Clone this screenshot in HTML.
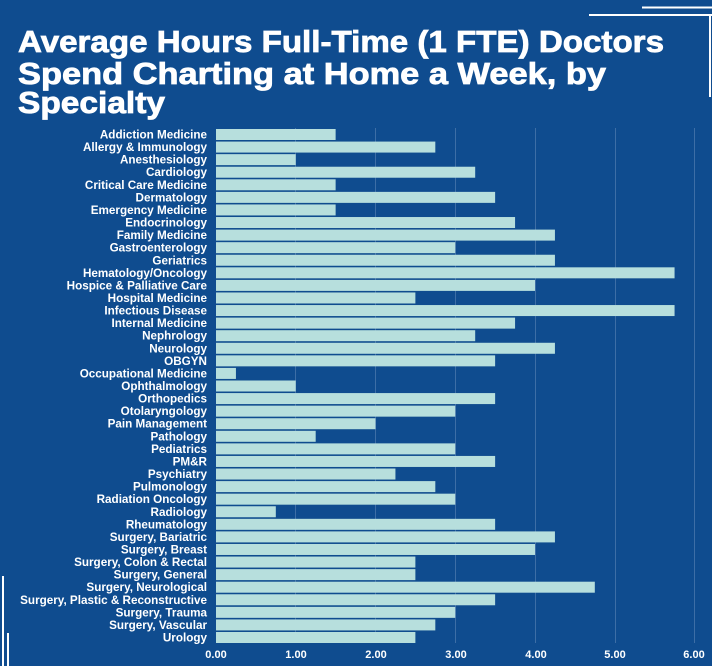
<!DOCTYPE html>
<html><head><meta charset="utf-8"><style>
html,body{margin:0;padding:0;background:#0f4c8f;}
svg{display:block;font-family:"Liberation Sans",sans-serif;font-weight:bold;}
</style></head><body>
<svg width="712" height="666" viewBox="0 0 712 666" xmlns="http://www.w3.org/2000/svg">
<rect width="712" height="666" fill="#0f4c8f"/>
<line x1="642" y1="7.5" x2="712" y2="7.5" stroke="#fff" stroke-width="2"/>
<line x1="589" y1="15" x2="712" y2="15" stroke="#fff" stroke-width="2"/>
<line x1="710" y1="15" x2="710" y2="97" stroke="#fff" stroke-width="2"/>
<line x1="3" y1="576" x2="3" y2="666" stroke="#fff" stroke-width="2"/>
<line x1="8" y1="633" x2="8" y2="666" stroke="#fff" stroke-width="2"/>
<g fill="#fff" font-size="31" stroke="#fff" stroke-width="0.8">
<text x="18" y="52" textLength="646" lengthAdjust="spacingAndGlyphs">Average Hours Full-Time (1 FTE) Doctors</text>
<text x="18" y="84" textLength="588" lengthAdjust="spacingAndGlyphs">Spend Charting at Home a Week, by</text>
<text x="18" y="113" textLength="147" lengthAdjust="spacingAndGlyphs">Specialty</text>
</g>
<g stroke="#3d6ea6" stroke-width="1">
<line x1="295.5" y1="128" x2="295.5" y2="643"/>
<line x1="375.5" y1="128" x2="375.5" y2="643"/>
<line x1="455.5" y1="128" x2="455.5" y2="643"/>
<line x1="535.5" y1="128" x2="535.5" y2="643"/>
<line x1="615.5" y1="128" x2="615.5" y2="643"/>
<line x1="694.5" y1="128" x2="694.5" y2="643"/>
</g>
<g id="bars"></g>
<g fill="#fff" font-size="11" text-anchor="middle">
<text x="216" y="658">0.00</text><text x="296" y="658">1.00</text><text x="376" y="658">2.00</text>
<text x="456" y="658">3.00</text><text x="536" y="658">4.00</text><text x="615" y="658">5.00</text><text x="694" y="658">6.00</text>
</g>
<script>
var d=[["Addiction Medicine",1.5],["Allergy & Immunology",2.75],["Anesthesiology",1],["Cardiology",3.25],["Critical Care Medicine",1.5],["Dermatology",3.5],["Emergency Medicine",1.5],["Endocrinology",3.75],["Family Medicine",4.25],["Gastroenterology",3],["Geriatrics",4.25],["Hematology/Oncology",5.75],["Hospice & Palliative Care",4],["Hospital Medicine",2.5],["Infectious Disease",5.75],["Internal Medicine",3.75],["Nephrology",3.25],["Neurology",4.25],["OBGYN",3.5],["Occupational Medicine",0.25],["Ophthalmology",1],["Orthopedics",3.5],["Otolaryngology",3],["Pain Management",2],["Pathology",1.25],["Pediatrics",3],["PM&R",3.5],["Psychiatry",2.25],["Pulmonology",2.75],["Radiation Oncology",3],["Radiology",0.75],["Rheumatology",3.5],["Surgery, Bariatric",4.25],["Surgery, Breast",4],["Surgery, Colon & Rectal",2.5],["Surgery, General",2.5],["Surgery, Neurological",4.75],["Surgery, Plastic & Reconstructive",3.5],["Surgery, Trauma",3],["Surgery, Vascular",2.75],["Urology",2.5]];
var g=document.getElementById("bars"),ns="http://www.w3.org/2000/svg";
d.forEach(function(r,i){var c=134.5+i*12.575;
var b=document.createElementNS(ns,"rect");b.setAttribute("x",216);b.setAttribute("y",c-5.5);b.setAttribute("width",r[1]*79.75);b.setAttribute("height",11);b.setAttribute("fill","#b7dfdd");g.appendChild(b);
var t=document.createElementNS(ns,"text");t.setAttribute("x",207);t.setAttribute("y",c+4);t.setAttribute("text-anchor","end");t.setAttribute("fill","#fff");t.setAttribute("font-size","11.7");t.textContent=r[0];g.appendChild(t);});
</script>
</svg>
</body></html>
